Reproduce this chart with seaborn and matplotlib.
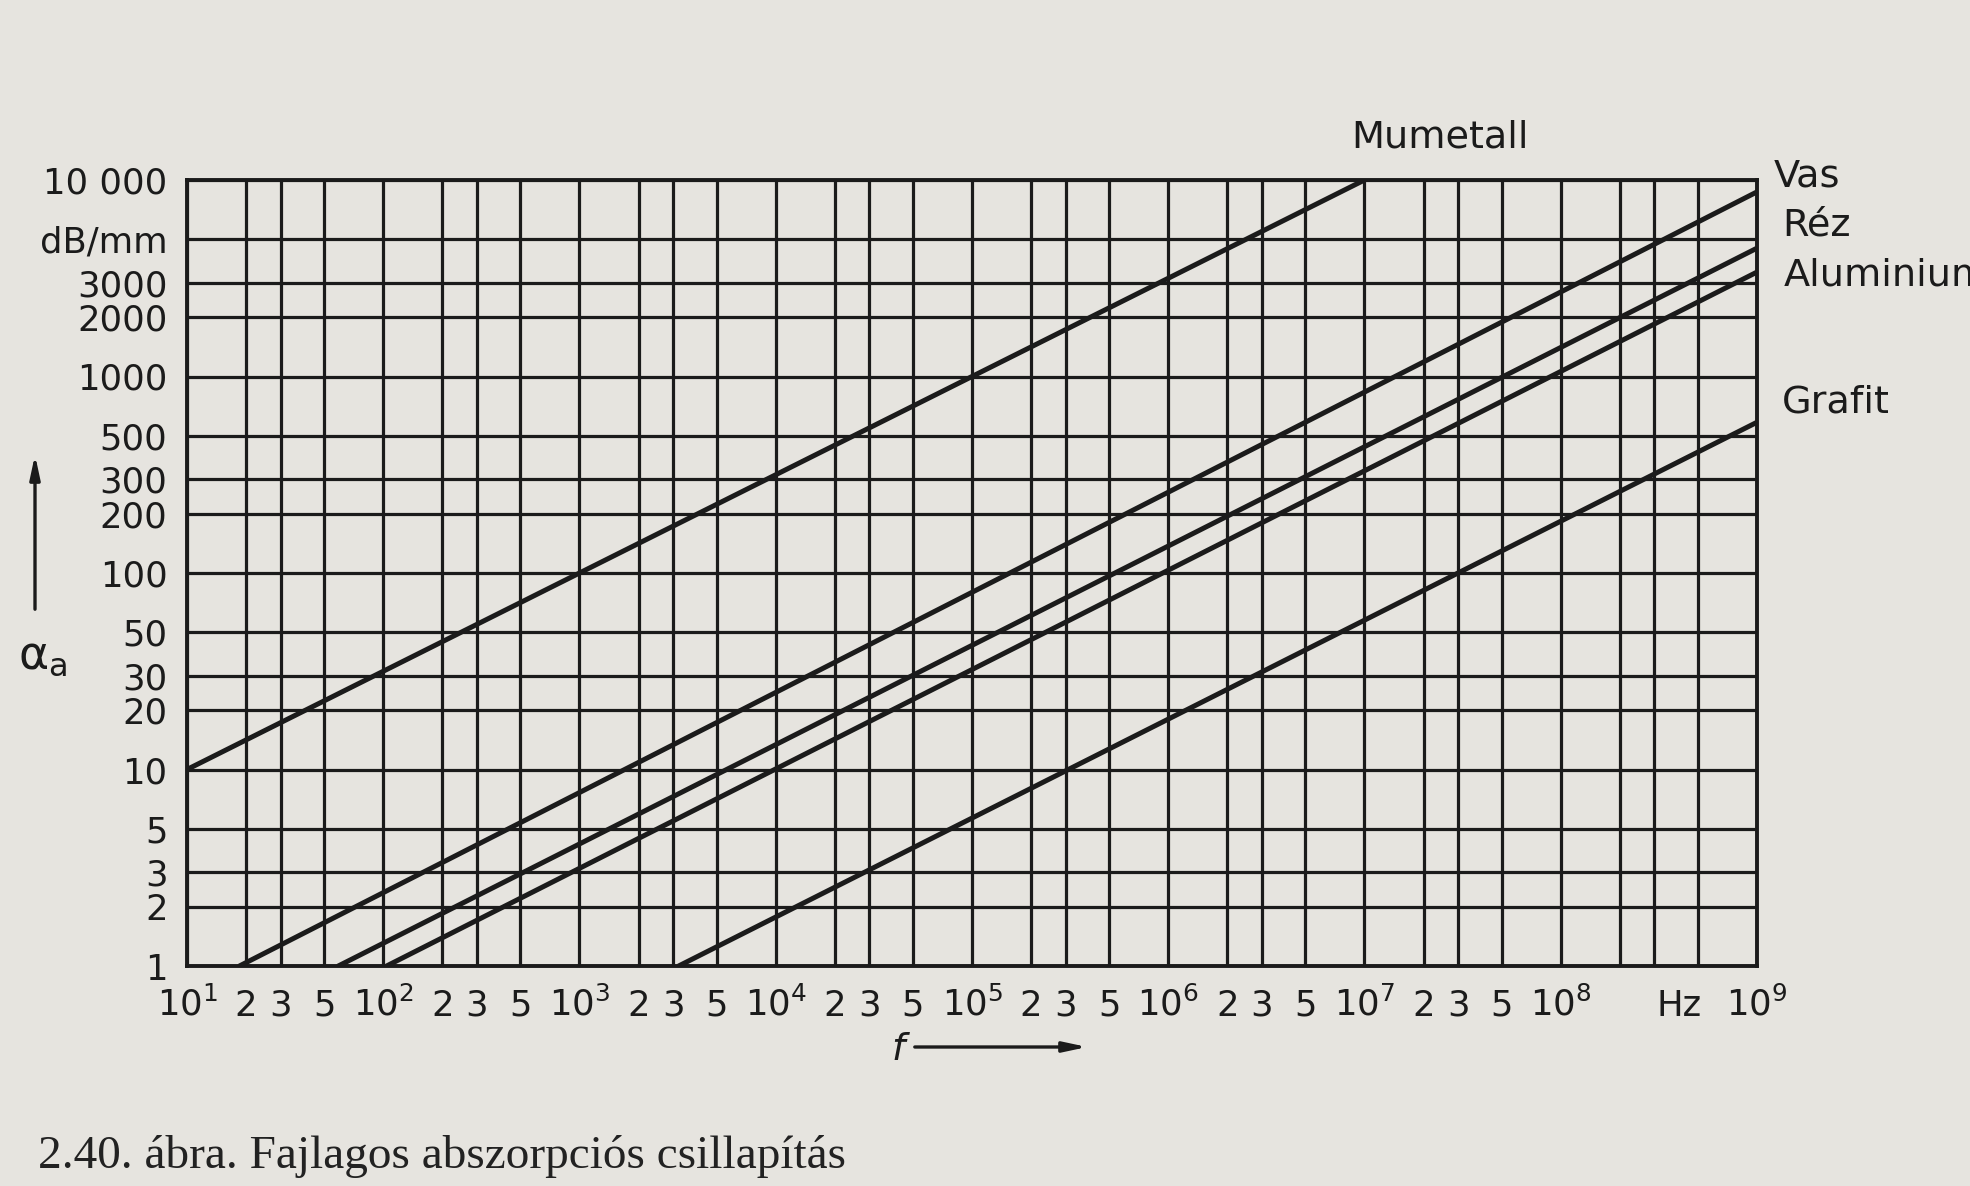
import numpy as np
import pandas as pd
import seaborn as sns
import matplotlib.pyplot as plt

sns.set_style('white')
plt.rcParams['font.family'] = ['DejaVu Sans']
plt.rcParams['mathtext.fontset'] = 'dejavusans'

W, H = 1970, 1186
INK = '#1b1b1b'
PAPER = '#e6e4df'


# Data: alpha_a (dB/mm) against f (Hz), straight lines on log-log
materials = ['Mumetall', 'Vas', 'Réz', 'Aluminium', 'Grafit']
f_start = [1e1, 18.5, 59, 104, 3200]
f_end = [1e7, 1e9, 1e9, 1e9, 1e9]
a_start = [10, 1, 1, 1, 1]
a_end = [10000, 8700, 4500, 3400, 585]

# Grid / tick labels
x_ticks = [m * 10.0 ** k for k in range(1, 9) for m in (1, 2, 3, 5)] + [1e9]
x_labels = []
for k in range(1, 9):
    x_labels += ['$10^{%d}$' % k] + (['2', '3', '5'] if k < 8 else ['', '', ''])
x_labels += ['$10^{9}$']
y_ticks = [1, 2, 3, 5, 10, 20, 30, 50, 100, 200, 300, 500,
           1000, 2000, 3000, 5000, 10000]
y_labels = ['1', '2', '3', '5', '10', '20', '30', '50', '100', '200', '300', '500',
            '1000', '2000', '3000', 'dB/mm', '10 000']

df = pd.DataFrame({'material': materials * 2,
                   'f': f_start + f_end,
                   'alpha': a_start + a_end})


def px(x, y):
    # pixel position (top-left origin) -> figure fraction
    return x / W, 1 - y / H


fig = plt.figure(figsize=(W / 100, H / 100), dpi=100, facecolor=PAPER)
ax = fig.add_axes([187 / W, 1 - 966 / H, 1570 / W, 786 / H])
ax.set_facecolor('none')
ax.set(xscale='log', yscale='log')

sns.lineplot(data=df, x='f', y='alpha', hue='material',
             palette=[INK] * len(materials), linewidth=3.6,
             estimator=None, legend=False, ax=ax)

ax.set_xlim(1e1, 1e9)
ax.set_ylim(1, 1e4)
ax.set_xticks(x_ticks, x_labels)
ax.set_yticks(y_ticks, y_labels)
ax.minorticks_off()
ax.tick_params(axis='x', length=0, pad=36, labelsize=25.5, colors=INK)
ax.tick_params(axis='y', length=0, pad=14, labelsize=25.5, colors=INK)
for lab in ax.get_xticklabels():
    lab.set_verticalalignment('baseline')
ax.set_xlabel('')
ax.set_ylabel('')
ax.grid(True, color=INK, linewidth=2.3)
for s in ax.spines.values():
    s.set_visible(True)
    s.set_color(INK)
    s.set_linewidth(2.8)

ax.annotate('Hz', xy=(4e8, 0), xycoords=('data', 'axes fraction'),
            xytext=(0, -36), textcoords='offset points',
            ha='center', va='baseline', fontsize=25.5, color=INK)

# curve labels (the last one runs off the page edge, as in the scan)
label_pos = {'Mumetall': (1351, 138), 'Vas': (1774, 176), 'Réz': (1782, 226),
             'Aluminium': (1784, 275), 'Grafit': (1782, 402)}
for name, (x, y) in label_pos.items():
    fig.text(*px(x, y), name, ha='left', va='center', fontsize=27.5, color=INK)

# axis names with arrows
fig.text(*px(18, 656), r'$\mathregular{\alpha_{a}}$', ha='left', va='center',
         fontsize=33, color=INK)
ax.annotate('', xy=(35, H - 452), xytext=(35, H - 612),
            xycoords='figure pixels', textcoords='figure pixels',
            annotation_clip=False,
            arrowprops=dict(arrowstyle='-|>,head_length=1.4,head_width=0.3',
                            lw=2.4, color=INK))
fig.text(*px(898, 1050), 'f', ha='center', va='center', fontsize=27,
         style='italic', color=INK)
ax.annotate('', xy=(1090, H - 1047), xytext=(912, H - 1047),
            xycoords='figure pixels', textcoords='figure pixels',
            annotation_clip=False,
            arrowprops=dict(arrowstyle='-|>,head_length=1.4,head_width=0.3',
                            lw=2.4, color=INK))

fig.text(*px(38, 1168), '2.40. ábra. Fajlagos abszorpciós csillapítás',
         family='Liberation Serif', fontsize=34, ha='left', va='baseline',
         color='#222222')

fig.savefig('out.png', dpi=100, facecolor=PAPER)
